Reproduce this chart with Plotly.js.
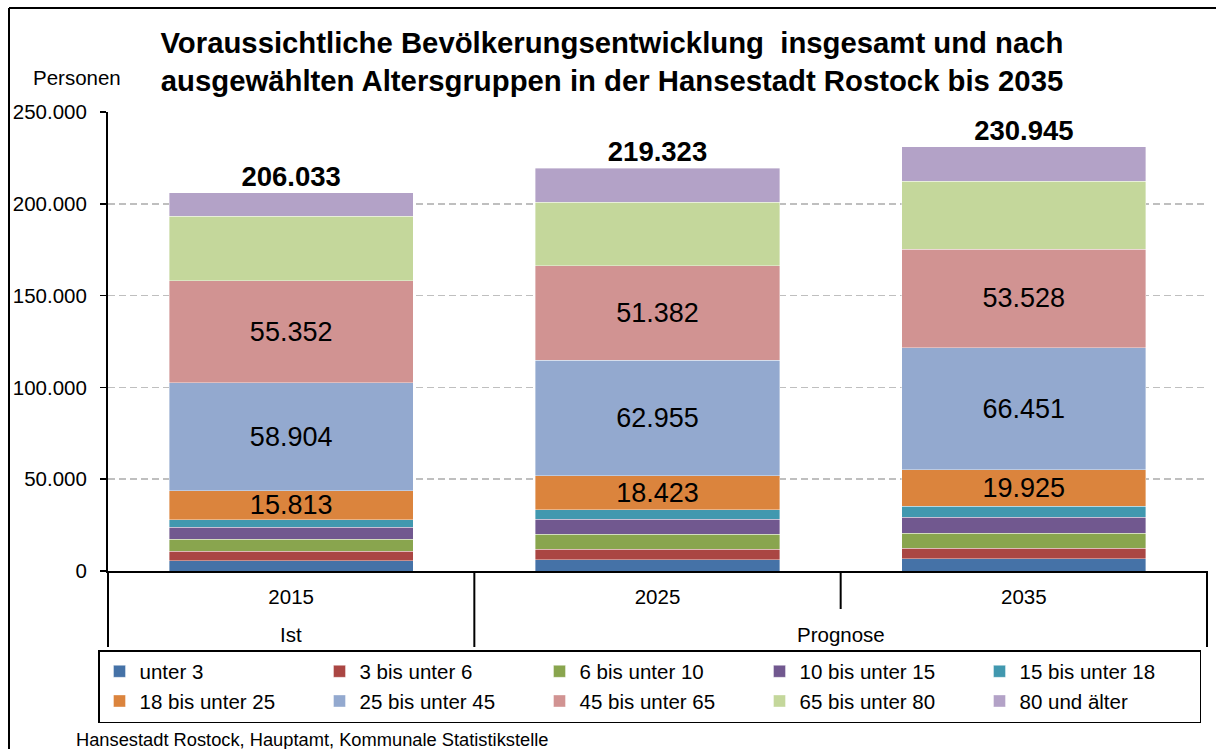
<!DOCTYPE html>
<html>
<head>
<meta charset="utf-8">
<script src="https://cdn.plot.ly/plotly-3.0.1.min.js"></script>
<style>html,body{margin:0;padding:0;background:#fff;}#chart{width:1216px;height:749px;}</style>
</head>
<body>
<div id="chart"></div>
<script>
// ---- Data (Personen) ----
const years = ['2015', '2025', '2035'];
const unter3   = [5700, 6100, 6600];
const b3_6     = [5100, 5800, 5800];
const b6_10    = [6400, 8000, 8200];
const b10_15   = [6700, 8200, 8700];
const b15_18   = [4000, 5300, 6000];
const b18_25   = [15813, 18423, 19925];
const b25_45   = [58904, 62955, 66451];
const b45_65   = [55352, 51382, 53528];
const b65_80   = [35200, 34600, 37200];
const b80plus  = [12864, 18563, 18541];
const totals   = [206033, 219323, 230945];

const seriesNames = ['unter 3', '3 bis unter 6', '6 bis unter 10', '10 bis unter 15', '15 bis unter 18',
  '18 bis unter 25', '25 bis unter 45', '45 bis unter 65', '65 bis unter 80', '80 und älter'];
const seriesValues = [unter3, b3_6, b6_10, b10_15, b15_18, b18_25, b25_45, b45_65, b65_80, b80plus];
const seriesColors = ['#4572A7', '#AA4643', '#89A54E', '#71588F', '#4198AF',
  '#DB843D', '#93A9CF', '#D19392', '#C4D79B', '#B3A2C7'];
const labelled = [false, false, false, false, false, true, true, true, false, false];

const levelLabels = ['Ist', 'Prognose'];

const FONT = 'Liberation Sans, Arial, sans-serif';

// ---- geometry helpers (plot area in pixels) ----
const W = 1216, H = 749;
const L = 108, R = 1207, T = 112, B = 571;
const px = x => (x - L) / (R - L);
const py = y => (B - y) / (B - T);

const traces = seriesNames.map((name, i) => {
  const t = {
    type: 'bar',
    name: name,
    x: years,
    y: seriesValues[i],
    marker: {color: seriesColors[i], line: {color: 'rgba(255,255,255,0.55)', width: 0.7}},
    hoverinfo: 'skip'
  };
  if (labelled[i]) {
    t.texttemplate = '%{y:,}';
    t.textposition = 'inside';
    t.insidetextanchor = 'middle';
    t.constraintext = 'none';
    t.textfont = {family: FONT, size: 27, color: '#000'};
  }
  return t;
});

traces.push({
  type: 'scatter',
  mode: 'text',
  x: years,
  y: totals,
  texttemplate: '%{y:,}',
  textposition: 'top center',
  textfont: {family: FONT, size: 27.5, color: '#000', weight: 'bold'},
  showlegend: false,
  hoverinfo: 'skip',
  cliponaxis: false
});

const lineStyle = {color: '#000', width: 2};
const shapes = [
  // outer frame (top and left)
  {type: 'line', xref: 'paper', yref: 'paper', x0: px(9), x1: px(1216), y0: py(8), y1: py(8), line: lineStyle},
  {type: 'line', xref: 'paper', yref: 'paper', x0: px(9), x1: px(9), y0: py(8), y1: py(749), line: lineStyle},
  // category dividers
  {type: 'line', xref: 'paper', yref: 'paper', x0: 0, x1: 0, y0: 0, y1: py(647), line: lineStyle},
  {type: 'line', xref: 'paper', yref: 'paper', x0: 1/3, x1: 1/3, y0: 0, y1: py(647), line: lineStyle},
  {type: 'line', xref: 'paper', yref: 'paper', x0: 2/3, x1: 2/3, y0: 0, y1: py(609), line: lineStyle},
  {type: 'line', xref: 'paper', yref: 'paper', x0: 1, x1: 1, y0: 0, y1: py(647), line: lineStyle}
];

const annotations = [
  {text: levelLabels[0], xref: 'paper', yref: 'paper', x: 1/6, y: py(634), xanchor: 'center', yanchor: 'middle', showarrow: false, font: {family: FONT, size: 20.5, color: '#000'}},
  {text: levelLabels[1], xref: 'paper', yref: 'paper', x: 2/3, y: py(634), xanchor: 'center', yanchor: 'middle', showarrow: false, font: {family: FONT, size: 20.5, color: '#000'}},
  {text: 'Personen', xref: 'paper', yref: 'paper', x: px(77), y: py(78), xanchor: 'center', yanchor: 'middle', showarrow: false, font: {family: FONT, size: 20.5, color: '#000'}},
  {text: 'Hansestadt Rostock, Hauptamt, Kommunale Statistikstelle', xref: 'paper', yref: 'paper', x: px(74), y: py(739), xanchor: 'left', yanchor: 'middle', showarrow: false, font: {family: FONT, size: 18.3, color: '#000'}}
];

const layout = {
  width: W, height: H,
  paper_bgcolor: '#fff', plot_bgcolor: '#fff',
  margin: {l: L, r: W - R, t: T, b: H - B, pad: 0},
  separators: ',.',
  font: {family: FONT, color: '#000'},
  title: {
    text: 'Voraussichtliche Bevölkerungsentwicklung&nbsp; insgesamt und nach<br>ausgewählten Altersgruppen in der Hansestadt Rostock bis 2035',
    font: {family: FONT, size: 29.3, color: '#000', weight: 'bold'},
    xref: 'container', yref: 'container',
    x: 612 / W, xanchor: 'center',
    y: 1 - 53 / H, yanchor: 'middle'
  },
  barmode: 'stack',
  bargap: 1/3,
  showlegend: true,
  legend: {
    orientation: 'h',
    xref: 'container', yref: 'container',
    x: 98 / W, xanchor: 'left',
    y: 1 - 650 / H, yanchor: 'top',
    traceorder: 'normal',
    entrywidth: 175, entrywidthmode: 'pixels',
    font: {family: FONT, size: 20.5, color: '#000'},
    bgcolor: '#fff', bordercolor: '#000', borderwidth: 1.5
  },
  xaxis: {
    type: 'category',
    showline: true, linecolor: '#000', linewidth: 2,
    ticks: '', showgrid: false, zeroline: false,
    tickfont: {family: FONT, size: 20.5, color: '#000'},
    ticklabelstandoff: 6,
    fixedrange: true
  },
  yaxis: {
    range: [0, 250000], dtick: 50000, tick0: 0,
    tickformat: ',',
    showline: true, linecolor: '#000', linewidth: 2,
    ticks: 'outside', ticklen: 6, tickwidth: 1.5, tickcolor: '#000',
    showgrid: true, gridcolor: '#BFBFBF', gridwidth: 1.5, griddash: '7px,4px',
    zeroline: false,
    tickfont: {family: FONT, size: 20.5, color: '#000'},
    ticklabelstandoff: 9,
    fixedrange: true
  },
  shapes: shapes,
  annotations: annotations
};

Plotly.newPlot('chart', traces, layout, {displayModeBar: false, staticPlot: true});
</script>
</body>
</html>
